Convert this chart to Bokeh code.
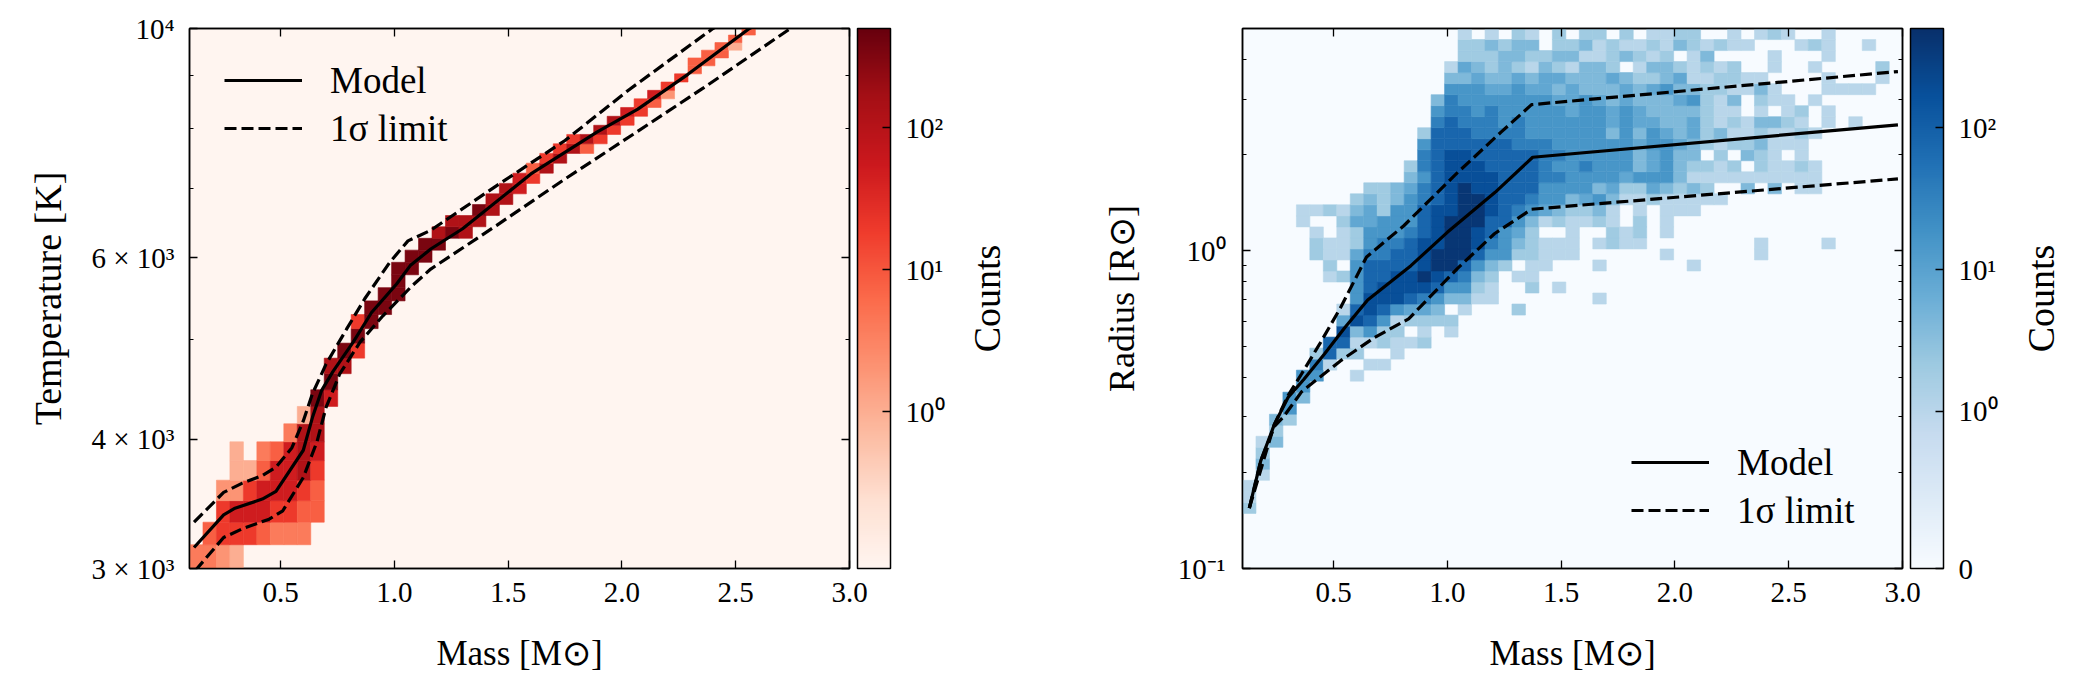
import math
from bokeh.plotting import figure
from bokeh.layouts import row
from bokeh.models import (ColumnDataSource, LogColorMapper, LinearColorMapper, ColorBar,
                          FixedTicker, CustomJSTickFormatter, LinearAxis, LogAxis,
                          Legend, LegendItem)
from bokeh.palettes import Reds256, Blues256
from bokeh.core.properties import value
from bokeh.embed import file_html
from bokeh.resources import INLINE

FONT = "Liberation Serif"

# ---------------- data ----------------
MASS_BIN_START = 0.1
MASS_BIN_WIDTH = 0.0592
TEMP_BIN_START = 3000.0
TEMP_BIN_WIDTH = 163.2
LOGR_BIN_START = -1.0
LOGR_BIN_WIDTH = 0.03467

# left histogram: per temperature row (bottom -> top), first mass column and level string
TEMP_ROW_START = [0, 1, 2, 2, 3, 3, 7, 8, 9, 10, 10, 11, 12, 12, 13, 14, 15, 15, 16, 17,
                  18, 19, 21, 22, 23, 24, 25, 26, 27, 28, 30, 31, 32, 33, 34, 35, 36, 37,
                  37, 38, 39, 40, 41]
TEMP_ROW_LEVELS = ["3321", "45554333", "56665544", "22566654", "1146675", "1.34676", "377",
                   "17", "86", "8", "77", "85", "8", "58", "88", "88", "8", "88", "88", "88",
                   "787", "777", "87", "77", "76", "65", "47", "57", "574", "575", "75", "75",
                   "65", "54", "62", "5", "5", "4", "44", "44", "41", "4", "4"]
TEMP_LEVEL_COUNTS = [0, 1, 2, 4, 8, 20, 50, 120, 350]

# right histogram: per log-radius row (bottom -> top)
RAD_ROW_START = [0, 0, 0, 0, 0, 0, 0, 0, 1, 1, 1, 1, 2, 2, 3, 3, 4, 4, 5, 5,
                 6, 7, 7, 7, 8, 8, 6, 6, 5, 5, 5, 4, 4, 8, 9, 12, 12, 13, 13, 13,
                 14, 14, 14, 15, 15, 15, 16, 16, 16]
RAD_ROW_LEVELS = ["", "", "", "", "", "2", "1", "1", "1", "3", "2", "13", "2", "32", "5", "53",
                  "5", "55..1", "61..11", "2722..1", "77112112", "83522.1.1", "487512222",
                  "17875443.1...2", "58887653311.......1", "57888875521..2.1",
                  "1257788987632.11", "2.577778997532.11...1......1",
                  "21146677899975522111......1......1",
                  "21125667889986532111.1211........1....1",
                  "1.125556789987542..1..212.1",
                  "1..244555789997753121121.2.1",
                  "112134255788998765432231.1.111",
                  "2323567899877655345311211111",
                  "22346789887775555342243232..3.3.11",
                  "3578888777665555455531111111111",
                  "2678887777655655534532212.21121",
                  "678877777665555534533.2.321.1",
                  "57777776665555554554321223111",
                  "277766665555553535434231121121",
                  "6766656555555454433421213321.1.1",
                  "56656555554554543333211.1.12.1",
                  "36555555544543433345213.211.1",
                  "5554454434333434533221131...1111",
                  "334334344333432234112211....1...1",
                  "1432321321332.13321212..1..1....2",
                  "2223322331123212.13....1...1",
                  "223233.223121121321211...121..1",
                  "1.1.21.2.22.2.1122..1.121..1"]
RAD_LEVEL_COUNTS = [0, 1, 2, 4, 8, 16, 35, 80, 180, 400]

# model curves, temperature panel
T_MODEL_MASS = [0.12, 0.25, 0.30, 0.42, 0.48, 0.60, 0.64, 0.68, 0.73, 0.82, 0.90, 1.01, 1.07,
                1.16, 1.30, 1.60, 1.89, 2.07, 2.29, 2.56, 2.62]
T_MODEL = [3144, 3381, 3432, 3502, 3563, 3905, 4200, 4460, 4653, 4972, 5309, 5658, 5894,
           6116, 6399, 7230, 7937, 8354, 9029, 10000, 10150]
T_UP_MASS = [0.12, 0.25, 0.33, 0.42, 0.48, 0.55, 0.60, 0.64, 0.70, 0.79, 0.87, 0.98, 1.06,
             1.16, 1.45, 1.75, 2.03, 2.40, 2.45]
T_UP = [3327, 3555, 3627, 3690, 3760, 3927, 4169, 4428, 4732, 5115, 5474, 5938, 6228,
        6377, 7045, 7790, 8720, 10000, 10150]
T_LO_MASS = [0.125, 0.25, 0.33, 0.45, 0.51, 0.60, 0.66, 0.70, 0.76, 0.85, 0.95, 1.08, 1.16,
             1.45, 1.75, 2.05, 2.36, 2.74]
T_LO = [2985, 3215, 3276, 3349, 3412, 3675, 3979, 4297, 4629, 4972, 5270, 5640, 5849,
        6448, 7150, 7900, 8764, 10000]

# model curves, radius panel
R_MODEL_MASS = [0.13, 0.18, 0.24, 0.30, 0.37, 0.46, 0.55, 0.65, 0.84, 1.00, 1.21, 1.375, 2.98]
R_MODEL = [0.155, 0.218, 0.284, 0.345, 0.394, 0.473, 0.573, 0.700, 0.897, 1.142, 1.526, 1.967, 2.489]
R_UP_MASS = [0.13, 0.24, 0.30, 0.36, 0.44, 0.53, 0.645, 0.81, 1.03, 1.236, 1.37, 2.98]
R_UP = [0.155, 0.284, 0.35, 0.41, 0.51, 0.66, 0.955, 1.20, 1.72, 2.36, 2.88, 3.66]
R_LO_MASS = [0.13, 0.18, 0.24, 0.28, 0.36, 0.53, 0.68, 0.83, 1.045, 1.207, 1.37, 2.98]
R_LO = [0.155, 0.218, 0.28, 0.30, 0.36, 0.45, 0.533, 0.61, 0.88, 1.13, 1.35, 1.682]

# ticks
MASS_TICKS = [0.5, 1.0, 1.5, 2.0, 2.5, 3.0]
MASS_TICK_LABELS = ["0.5", "1.0", "1.5", "2.0", "2.5", "3.0"]
TEMP_TICKS = [3000, 4000, 6000, 10000]
TEMP_TICK_LABELS = ["3 × 10³", "4 × 10³", "6 × 10³", "10⁴"]
TEMP_MINOR = [5000, 7000, 8000, 9000]
RAD_TICKS = [0.1, 1.0]
RAD_TICK_LABELS = ["10⁻¹", "10⁰"]
RAD_MINOR = [0.2, 0.3, 0.4, 0.5, 0.6, 0.7, 0.8, 0.9, 2.0, 3.0, 4.0]
CB_LEFT_TICKS = [1, 10, 100]
CB_LEFT_LABELS = ["10⁰", "10¹", "10²"]
CB_RIGHT_COUNTS = [0, 1, 10, 100]
CB_RIGHT_LABELS = ["0", "10⁰", "10¹", "10²"]

LEFT_COUNT_RANGE = (0.079, 500)
RIGHT_COUNT_MAX = 504
SYMLOG_LIN = 1.0 / (1.0 - 0.1)   # matplotlib SymLogNorm, linthresh=1, linscale=1

# sizes (px)
TICK_FS = "29px"
LEGEND_FS = "37px"
FRAME_TOP = 28
FRAME_H = 540
FIG_H = 690
BOTTOM = FIG_H - FRAME_TOP - FRAME_H


def symlog(c):
    return c * SYMLOG_LIN if c <= 1 else SYMLOG_LIN + math.log10(c)


# ---------------- helpers ----------------
def fmt(tick_values, tick_labels):
    return CustomJSTickFormatter(args=dict(tv=list(tick_values), tl=list(tick_labels)), code="""
        for (let i = 0; i < tv.length; i++) {
            if (Math.abs(tick - tv[i]) <= 1e-6 * Math.max(1, Math.abs(tv[i]))) return tl[i];
        }
        return '';
    """)


def blank():
    return CustomJSTickFormatter(code="return '';")


def style_axis(ax, labels=True, label_fs="35px"):
    ax.axis_line_color = "black"
    ax.axis_line_width = 1.5
    ax.major_tick_in = 8
    ax.major_tick_out = 0
    ax.minor_tick_in = 4
    ax.minor_tick_out = 0
    ax.major_tick_line_color = "black"
    ax.major_tick_line_width = 1.3
    ax.minor_tick_line_color = "black"
    ax.minor_tick_line_width = 1.0
    ax.major_label_text_font = FONT
    ax.major_label_text_font_size = TICK_FS
    ax.major_label_text_color = "black"
    ax.axis_label_text_font = FONT
    ax.axis_label_text_font_size = label_fs
    ax.axis_label_text_font_style = "normal"
    ax.axis_label_text_color = "black"
    if not labels:
        ax.formatter = blank()
        ax.major_label_standoff = 0


def spacer_axis(kind, ticks, gap):
    ax = kind(ticker=FixedTicker(ticks=ticks), formatter=blank(), major_label_standoff=0,
              axis_line_color=None, major_tick_line_color=None, minor_tick_line_color=None,
              major_tick_in=0, major_tick_out=gap, minor_tick_in=0, minor_tick_out=0)
    return ax


def cells(starts, levels, counts, yedge):
    d = dict(left=[], right=[], bottom=[], top=[], count=[])
    for j, (s, lv) in enumerate(zip(starts, levels)):
        for k, ch in enumerate(lv):
            if ch == ".":
                continue
            i = s + k
            d["left"].append(MASS_BIN_START + i * MASS_BIN_WIDTH)
            d["right"].append(MASS_BIN_START + (i + 1) * MASS_BIN_WIDTH)
            d["bottom"].append(yedge(j))
            d["top"].append(yedge(j + 1))
            d["count"].append(counts[int(ch)])
    return d


def make_legend(p, r_solid, r_dash, loc):
    lg = Legend(items=[LegendItem(label="Model", renderers=[r_solid]),
                       LegendItem(label="1σ limit", renderers=[r_dash])],
                location=loc, padding=0, margin=0, spacing=2,
                glyph_width=78, glyph_height=46, label_height=46, label_standoff=28,
                label_text_font=FONT, label_text_font_size=LEGEND_FS, label_text_color="black",
                border_line_color=None, background_fill_alpha=0)
    p.add_layout(lg)


def make_colorbar(mapper, ticks, labels):
    return ColorBar(color_mapper=mapper, ticker=FixedTicker(ticks=ticks),
                    formatter=fmt(ticks, labels), width=33, padding=0, margin=0,
                    major_tick_in=8, major_tick_out=0, major_tick_line_color="black",
                    major_tick_line_width=1.3, minor_tick_line_color=None,
                    bar_line_color="black", bar_line_width=1.5, label_standoff=15,
                    major_label_text_font=FONT, major_label_text_font_size=TICK_FS,
                    major_label_text_color="black",
                    border_line_color=None, background_fill_alpha=0)


def counts_title(width):
    c = figure(width=width, height=FIG_H, x_range=(0, 1), y_range=(0, 1),
               output_backend="svg", toolbar_location=None,
               min_border_left=0, min_border_right=0, min_border_top=FRAME_TOP,
               min_border_bottom=BOTTOM, outline_line_color=None,
               background_fill_alpha=0, border_fill_color="white")
    c.axis.visible = False
    c.grid.visible = False
    c.text(x=[0.5], y=[0.5], text=["Counts"], angle=math.pi / 2, text_align="center",
           text_baseline="middle", text_font=value(FONT), text_font_size="38px",
           text_color="black")
    return c


REDS = list(reversed(Reds256))
BLUES = list(reversed(Blues256))
LW = 3.2
DASH = "12 5"

# ---------------- left panel ----------------
p1 = figure(width=966, height=FIG_H, x_range=(0.1, 3.0), y_range=(3000, 10000),
            y_axis_type="log", output_backend="svg", toolbar_location=None,
            min_border_left=189, min_border_right=117, min_border_top=FRAME_TOP,
            min_border_bottom=BOTTOM, background_fill_color=REDS[0], border_fill_color="white")
p1.grid.visible = False
p1.outline_line_color = "black"
p1.outline_line_width = 1.5

lmap = LogColorMapper(palette=REDS, low=LEFT_COUNT_RANGE[0], high=LEFT_COUNT_RANGE[1])
src1 = ColumnDataSource(cells(TEMP_ROW_START, TEMP_ROW_LEVELS, TEMP_LEVEL_COUNTS,
                              lambda j: TEMP_BIN_START + j * TEMP_BIN_WIDTH))
p1.quad(left="left", right="right", bottom="bottom", top="top", source=src1,
        fill_color={"field": "count", "transform": lmap},
        line_color={"field": "count", "transform": lmap}, line_width=0.6)

r1m = p1.line(T_MODEL_MASS, T_MODEL, line_color="black", line_width=LW)
r1u = p1.line(T_UP_MASS, T_UP, line_color="black", line_width=LW, line_dash=DASH)
p1.line(T_LO_MASS, T_LO, line_color="black", line_width=LW, line_dash=DASH)

p1.xaxis.ticker = FixedTicker(ticks=MASS_TICKS)
p1.xaxis.formatter = fmt(MASS_TICKS, MASS_TICK_LABELS)
p1.xaxis.axis_label = "Mass [M⊙]"
p1.yaxis.ticker = FixedTicker(ticks=TEMP_TICKS, minor_ticks=TEMP_MINOR)
p1.yaxis.formatter = fmt(TEMP_TICKS, TEMP_TICK_LABELS)
p1.yaxis.axis_label = "Temperature [K]"
for ax in p1.xaxis:
    style_axis(ax, label_fs="35px")
for ax in p1.yaxis:
    style_axis(ax, label_fs="38px")
p1.xaxis.major_label_standoff = 14
p1.xaxis.axis_label_standoff = 29
p1.yaxis.major_label_standoff = 15
p1.yaxis.axis_label_standoff = 19

top1 = LinearAxis(ticker=FixedTicker(ticks=MASS_TICKS))
style_axis(top1, labels=False)
p1.add_layout(top1, "above")
right1 = LogAxis(ticker=FixedTicker(ticks=TEMP_TICKS, minor_ticks=TEMP_MINOR))
style_axis(right1, labels=False)
p1.add_layout(right1, "right")
p1.add_layout(spacer_axis(LogAxis, TEMP_TICKS, 8), "right")
p1.add_layout(make_colorbar(lmap, CB_LEFT_TICKS, CB_LEFT_LABELS), "right")
make_legend(p1, r1m, r1u, (35, 417))

# ---------------- right panel ----------------
p2 = figure(width=1014, height=FIG_H, x_range=(0.1, 3.0), y_range=(0.1, 5.0),
            y_axis_type="log", output_backend="svg", toolbar_location=None,
            min_border_left=236, min_border_right=118, min_border_top=FRAME_TOP,
            min_border_bottom=BOTTOM, background_fill_color=BLUES[0], border_fill_color="white")
p2.grid.visible = False
p2.outline_line_color = "black"
p2.outline_line_width = 1.5

rmap = LinearColorMapper(palette=BLUES, low=0, high=symlog(RIGHT_COUNT_MAX))
d2 = cells(RAD_ROW_START, RAD_ROW_LEVELS, RAD_LEVEL_COUNTS,
           lambda j: 10 ** (LOGR_BIN_START + j * LOGR_BIN_WIDTH))
d2["t"] = [symlog(c) for c in d2["count"]]
src2 = ColumnDataSource(d2)
p2.quad(left="left", right="right", bottom="bottom", top="top", source=src2,
        fill_color={"field": "t", "transform": rmap},
        line_color={"field": "t", "transform": rmap}, line_width=0.6)

r2m = p2.line(R_MODEL_MASS, R_MODEL, line_color="black", line_width=LW)
r2u = p2.line(R_UP_MASS, R_UP, line_color="black", line_width=LW, line_dash=DASH)
p2.line(R_LO_MASS, R_LO, line_color="black", line_width=LW, line_dash=DASH)

p2.xaxis.ticker = FixedTicker(ticks=MASS_TICKS)
p2.xaxis.formatter = fmt(MASS_TICKS, MASS_TICK_LABELS)
p2.xaxis.axis_label = "Mass [M⊙]"
p2.yaxis.ticker = FixedTicker(ticks=RAD_TICKS, minor_ticks=RAD_MINOR)
p2.yaxis.formatter = fmt(RAD_TICKS, RAD_TICK_LABELS)
p2.yaxis.axis_label = "Radius [R⊙]"
for ax in p2.xaxis:
    style_axis(ax, label_fs="35px")
for ax in p2.yaxis:
    style_axis(ax, label_fs="36px")
p2.xaxis.major_label_standoff = 14
p2.xaxis.axis_label_standoff = 29
p2.yaxis.major_label_standoff = 17
p2.yaxis.axis_label_standoff = 33

top2 = LinearAxis(ticker=FixedTicker(ticks=MASS_TICKS))
style_axis(top2, labels=False)
p2.add_layout(top2, "above")
right2 = LogAxis(ticker=FixedTicker(ticks=RAD_TICKS, minor_ticks=RAD_MINOR))
style_axis(right2, labels=False)
p2.add_layout(right2, "right")
p2.add_layout(spacer_axis(LogAxis, RAD_TICKS, 8), "right")
cb_ticks = [symlog(c) for c in CB_RIGHT_COUNTS]
p2.add_layout(make_colorbar(rmap, cb_ticks, CB_RIGHT_LABELS), "right")
make_legend(p2, r2m, r2u, (389, 35))

layout = row(p1, counts_title(40), p2, counts_title(40))
with open("out.html", "w", encoding="utf-8") as f:
    f.write(file_html(layout, INLINE, title="Mass relations"))
